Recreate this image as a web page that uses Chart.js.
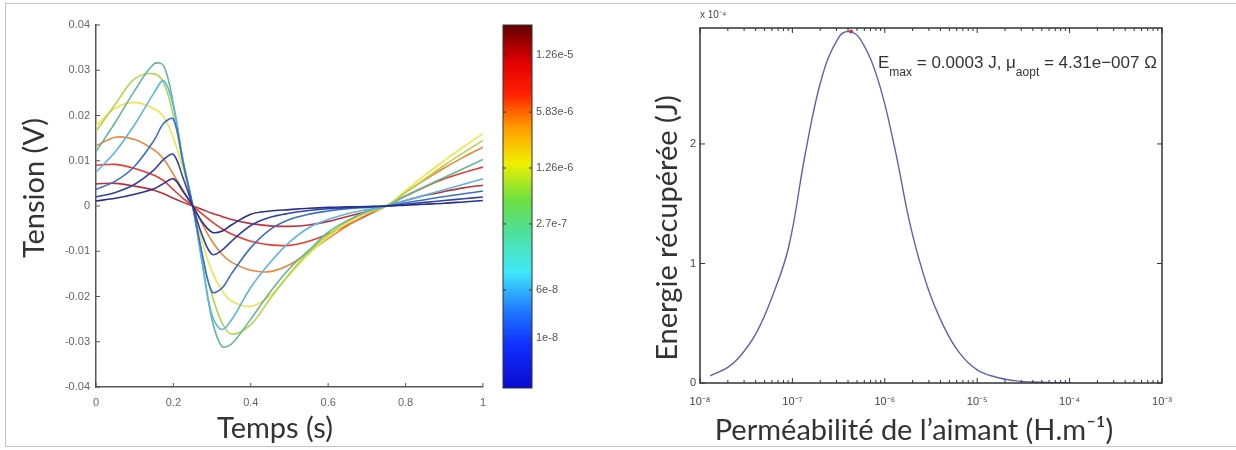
<!DOCTYPE html>
<html>
<head>
<meta charset="utf-8">
<script src="https://cdn.jsdelivr.net/npm/chart.js@4.4.1/dist/chart.umd.min.js"></script>
<style>
html, body { margin: 0; padding: 0; background: #fff; }
#frame { position: absolute; left: 5px; top: 3px; width: 1240px; height: 442px; border: 1px solid #c4c4c4; border-right: none; }
canvas { position: absolute; top: 0; }
</style>
</head>
<body>
<div id="frame"></div>
<canvas id="tension" width="495" height="446" style="left:0"></canvas>
<canvas id="cbar" width="145" height="446" style="left:495px"></canvas>
<canvas id="energie" width="596" height="446" style="left:640px"></canvas>
<script>
// ---- left plot: tension vs temps, one curve per permeability
const TEMPS = [0, 0.05, 0.1, 0.15, 0.175, 0.2, 0.225, 0.25, 0.275, 0.3, 0.325, 0.35, 0.4, 0.45, 0.5, 0.55, 0.6, 0.65, 0.7, 0.75, 0.8, 0.85, 0.9, 0.95, 1];
const U1  = [0.0011, 0.0017, 0.0026, 0.0038, 0.0050, 0.0060, 0.0032, 0, -0.0036, -0.0058, -0.0056, -0.0042, -0.0018, -0.0011, -0.0008, -0.0005, -0.0003, -0.0002, -0.0001, 0, 0.0002, 0.0004, 0.0006, 0.0009, 0.0012];
const U2  = [0.0020, 0.0030, 0.0048, 0.0080, 0.0103, 0.0114, 0.0062, 0, -0.0066, -0.0107, -0.0098, -0.0078, -0.0043, -0.0025, -0.0016, -0.0010, -0.0006, -0.0004, -0.0002, 0, 0.0004, 0.0008, 0.0012, 0.0016, 0.0020];
const U3  = [0.0037, 0.0055, 0.0088, 0.0145, 0.0183, 0.0192, 0.0095, 0, -0.0108, -0.0190, -0.0182, -0.0150, -0.0092, -0.0052, -0.0030, -0.0018, -0.0011, -0.0006, -0.0003, 0, 0.0007, 0.0014, 0.0021, 0.0027, 0.0033];
const U4  = [0.0075, 0.0120, 0.0180, 0.0250, 0.0277, 0.0220, 0.0100, 0, -0.0128, -0.0242, -0.0273, -0.0252, -0.0180, -0.0125, -0.0080, -0.0048, -0.0030, -0.0017, -0.0008, 0, 0.0012, 0.0024, 0.0036, 0.0048, 0.0060];
const U5  = [0.0120, 0.0185, 0.0255, 0.0314, 0.0310, 0.0225, 0.0100, 0, -0.0128, -0.0252, -0.0310, -0.0305, -0.0250, -0.0190, -0.0138, -0.0098, -0.0058, -0.0032, -0.0012, 0, 0.0022, 0.0043, 0.0063, 0.0083, 0.0103];
const U6  = [0.0165, 0.0225, 0.0281, 0.0292, 0.0272, 0.0200, 0.0098, 0, -0.0112, -0.0197, -0.0257, -0.0283, -0.0262, -0.0205, -0.0150, -0.0102, -0.0064, -0.0034, -0.0013, 0, 0.0030, 0.0060, 0.0090, 0.0118, 0.0145];
const U7  = [0.0177, 0.0216, 0.0229, 0.0215, 0.0197, 0.0150, 0.0082, 0, -0.0082, -0.0145, -0.0186, -0.0210, -0.0222, -0.0198, -0.0152, -0.0106, -0.0068, -0.0038, -0.0015, 0, 0.0034, 0.0068, 0.0100, 0.0131, 0.0160];
const U8  = [0.0133, 0.0152, 0.0147, 0.0124, 0.0104, 0.0070, 0.0035, 0, -0.0040, -0.0078, -0.0106, -0.0124, -0.0142, -0.0145, -0.0130, -0.0102, -0.0072, -0.0044, -0.0019, 0, 0.0030, 0.0058, 0.0084, 0.0108, 0.0130];
const U9  = [0.0090, 0.0092, 0.0083, 0.0068, 0.0056, 0.0036, 0.0017, 0, -0.0018, -0.0035, -0.0050, -0.0062, -0.0078, -0.0086, -0.0087, -0.0078, -0.0062, -0.0042, -0.0021, 0, 0.0022, 0.0042, 0.0060, 0.0074, 0.0086];
const U10 = [0.0049, 0.0050, 0.0044, 0.0035, 0.0027, 0.0017, 0.0008, 0, -0.0008, -0.0016, -0.0023, -0.0030, -0.0039, -0.0044, -0.0045, -0.0042, -0.0034, -0.0023, -0.0012, 0, 0.0012, 0.0023, 0.0032, 0.0040, 0.0046];
const TENSION_SERIES = [U1, U2, U3, U4, U5, U6, U7, U8, U9, U10];
const TEMPS_TICKS = [0, 0.2, 0.4, 0.6, 0.8, 1];
const TENSION_TICKS = [-0.04, -0.03, -0.02, -0.01, 0, 0.01, 0.02, 0.03, 0.04];

// ---- colorbar
const CBAR_LABELS = ['1e-8', '6e-8', '2.7e-7', '1.26e-6', '5.83e-6', '1.26e-5'];
const CBAR_POS = [0.138, 0.270, 0.452, 0.606, 0.760, 0.917];

// ---- right plot: energie vs permeabilite (energie in units of 1e-4 J)
const PERMEABILITE = [1.29e-8, 2e-8, 2.69e-8, 4.07e-8, 6.03e-8, 9.12e-8, 1.38e-7, 2.09e-7, 3.16e-7, 4.12e-7, 5.5e-7, 8.41e-7, 1.27e-6, 1.9e-6, 2.88e-6, 4.37e-6, 6.46e-6, 1e-5, 1.58e-5, 2.51e-5, 3.98e-5, 6.31e-5, 1e-4];
const ENERGIE_E4   = [0.06, 0.13, 0.22, 0.42, 0.72, 1.14, 1.92, 2.56, 2.89, 2.94, 2.87, 2.54, 1.98, 1.31, 0.81, 0.47, 0.25, 0.11, 0.05, 0.02, 0.008, 0.003, 0.001];
const ENERGIE_TICKS = [0, 1, 2];
const PIC = { x: 4.31e-7, y: 2.94 };
const ANNOT = [['E', false], ['max', true], [' = 0.0003 J, \u03bc', false], ['aopt', true], [' = 4.31e\u2212007 \u03a9', false]];

const LINE_COLORS = ['#2a2f8a', '#3142a8', '#3a6fc8', '#5cb4e6', '#62b896', '#b5d44a', '#f2e34a', '#e8873a', '#e83a30', '#c03038'];
const TICK_FONT = { family: '"Liberation Sans", Arial, sans-serif', size: 11 };
const TITLE_FONT = '29px Lato, "Open Sans", sans-serif';

const SUP = { '-': '\u207b', '0': '\u2070', '1': '\u00b9', '2': '\u00b2', '3': '\u00b3', '4': '\u2074', '5': '\u2075', '6': '\u2076', '7': '\u2077', '8': '\u2078', '9': '\u2079' };
const sup = s => String(s).split('').map(c => SUP[c] || c).join('');

// tick marks drawn inward, MATLAB style
const innerTicks = {
    id: 'innerTicks',
    afterDatasetsDraw(chart, args, opts) {
        const { ctx, chartArea: a } = chart;
        ctx.save();
        ctx.strokeStyle = opts.color;
        ctx.lineWidth = 1;
        ctx.beginPath();
        opts.axes.forEach(ax => {
            const scale = chart.scales[ax.id];
            scale.ticks.forEach(t => {
                const len = t.major === false ? ax.minor : ax.len;
                const p = scale.getPixelForValue(t.value);
                ax.sides.forEach(side => {
                    if (side === 'bottom') { ctx.moveTo(p, a.bottom); ctx.lineTo(p, a.bottom - len); }
                    if (side === 'top') { ctx.moveTo(p, a.top); ctx.lineTo(p, a.top + len); }
                    if (side === 'left') { ctx.moveTo(a.left, p); ctx.lineTo(a.left + len, p); }
                    if (side === 'right') { ctx.moveTo(a.right, p); ctx.lineTo(a.right - len, p); }
                });
            });
        });
        ctx.stroke();
        ctx.restore();
    }
};

const frameBox = {
    id: 'frameBox',
    afterDatasetsDraw(chart, args, opts) {
        const { ctx, chartArea: a } = chart;
        ctx.save();
        ctx.strokeStyle = opts.color;
        ctx.lineWidth = opts.width;
        ctx.strokeRect(a.left, a.top, a.right - a.left, a.bottom - a.top);
        ctx.restore();
    }
};

const axisText = {
    id: 'axisText',
    afterDraw(chart, args, opts) {
        const { ctx, chartArea: a } = chart;
        opts.items.forEach(it => {
            ctx.save();
            ctx.translate(a.left + it.dx, it.y);
            if (it.rotate) ctx.rotate(-Math.PI / 2);
            ctx.font = it.font;
            ctx.fillStyle = it.color;
            ctx.textAlign = it.align || 'center';
            ctx.textBaseline = 'middle';
            ctx.fillText(it.text, 0, 0);
            ctx.restore();
        });
    }
};

// "Emax = ..." label next to the peak
const peakLabel = {
    id: 'peakLabel',
    afterDraw(chart) {
        const { ctx, scales: { x } } = chart;
        let px = x.getPixelForValue(PIC.x) + 27;
        const py = 63;
        ctx.save();
        ctx.fillStyle = '#333';
        ctx.textBaseline = 'middle';
        ctx.textAlign = 'left';
        ANNOT.forEach(([txt, isSub]) => {
            ctx.font = (isSub ? '12px' : '17px') + ' "Liberation Sans", Arial, sans-serif';
            ctx.fillText(txt, px, isSub ? py + 10 : py);
            px += ctx.measureText(txt).width;
        });
        ctx.restore();
    }
};

Chart.defaults.font.family = TICK_FONT.family;

// left chart
new Chart(document.getElementById('tension'), {
    type: 'line',
    data: {
        datasets: TENSION_SERIES.map((v, k) => ({
            data: TEMPS.map((t, i) => ({ x: t, y: v[i] })),
            borderColor: LINE_COLORS[k],
            borderWidth: 1.6,
            pointRadius: 0,
            tension: 0.35,
            fill: false
        }))
    },
    options: {
        responsive: false,
        animation: false,
        devicePixelRatio: 1,
        layout: { padding: { left: 0, top: 25, right: 12, bottom: 0 } },
        plugins: {
            legend: { display: false },
            tooltip: { enabled: false },
            innerTicks: {
                color: '#555',
                axes: [{ id: 'x', sides: ['bottom'], len: 4, minor: 4 }, { id: 'y', sides: ['left'], len: 4, minor: 4 }]
            },
            axisText: {
                items: [
                    { text: 'Temps (s)', dx: 179, y: 429, font: TITLE_FONT, color: '#333' },
                    { text: 'Tension (V)', dx: -61, y: 188, rotate: true, font: TITLE_FONT, color: '#333' }
                ]
            }
        },
        scales: {
            x: {
                type: 'linear', min: 0, max: 1,
                afterBuildTicks: s => { s.ticks = TEMPS_TICKS.map(v => ({ value: v })); },
                afterFit: s => { s.height = 59; },
                grid: { display: false, drawTicks: false },
                border: { display: true, color: '#555', width: 1.5 },
                ticks: { padding: 9, font: TICK_FONT, color: '#666', maxRotation: 0, autoSkip: false,
                    callback: v => String(Number(v.toFixed(1))) }
            },
            y: {
                min: -0.04, max: 0.04,
                afterBuildTicks: s => { s.ticks = TENSION_TICKS.map(v => ({ value: v })); },
                afterFit: s => { s.width = 96; },
                grid: { display: false, drawTicks: false },
                border: { display: true, color: '#555', width: 1.5 },
                ticks: { padding: 6, font: TICK_FONT, color: '#666', autoSkip: false,
                    callback: v => Math.abs(v) < 1e-9 ? '0' : v.toFixed(2) }
            }
        }
    },
    plugins: [innerTicks, axisText]
});

// colorbar
let jetCache = null;
function jetGradient(chart) {
    const a = chart.chartArea;
    if (!a) return '#08f';
    if (jetCache) return jetCache;
    const g = chart.ctx.createLinearGradient(0, a.bottom, 0, a.top);
    g.addColorStop(0, '#0a0ad0');
    g.addColorStop(0.12, '#1030ff');
    g.addColorStop(0.22, '#2080ff');
    g.addColorStop(0.32, '#40e8f8');
    g.addColorStop(0.44, '#50e090');
    g.addColorStop(0.52, '#70e040');
    g.addColorStop(0.62, '#f0f000');
    g.addColorStop(0.72, '#ff9900');
    g.addColorStop(0.81, '#ff2000');
    g.addColorStop(0.9, '#e00000');
    g.addColorStop(1, '#600000');
    jetCache = g;
    return g;
}

new Chart(document.getElementById('cbar'), {
    type: 'bar',
    data: {
        labels: [''],
        datasets: [{ data: [1], backgroundColor: c => jetGradient(c.chart), borderWidth: 0, barPercentage: 1, categoryPercentage: 1 }]
    },
    options: {
        responsive: false,
        animation: false,
        devicePixelRatio: 1,
        layout: { padding: { left: 8, top: 25, right: 0, bottom: 58 } },
        plugins: {
            legend: { display: false },
            tooltip: { enabled: false },
            frameBox: { color: '#333', width: 1 },
            innerTicks: { color: '#333', axes: [{ id: 'y', sides: ['left', 'right'], len: 3, minor: 3 }] }
        },
        scales: {
            x: { display: false },
            y: {
                position: 'right', min: 0, max: 1,
                afterBuildTicks: s => { s.ticks = CBAR_POS.map(v => ({ value: v })); },
                afterFit: s => { s.width = 108; },
                grid: { display: false, drawTicks: false },
                border: { display: false },
                ticks: { padding: 4, font: TICK_FONT, color: '#555', autoSkip: false,
                    callback: (v, i) => CBAR_LABELS[i] }
            }
        }
    },
    plugins: [frameBox, innerTicks]
});

// right chart
new Chart(document.getElementById('energie'), {
    type: 'line',
    data: {
        datasets: [
            {
                data: PERMEABILITE.map((p, i) => ({ x: p, y: ENERGIE_E4[i] })),
                borderColor: '#5c62b0',
                borderWidth: 1.4,
                pointRadius: 0,
                tension: 0.4,
                fill: false
            },
            {
                data: [PIC],
                showLine: false,
                pointRadius: 2,
                pointBorderWidth: 0,
                pointBackgroundColor: '#ff2020'
            }
        ]
    },
    options: {
        responsive: false,
        animation: false,
        devicePixelRatio: 1,
        layout: { padding: { left: 0, top: 28, right: 74, bottom: 0 } },
        plugins: {
            legend: { display: false },
            tooltip: { enabled: false },
            frameBox: { color: '#333', width: 1.5 },
            innerTicks: {
                color: '#333',
                axes: [{ id: 'x', sides: ['bottom', 'top'], len: 5, minor: 3 }, { id: 'y', sides: ['left', 'right'], len: 5, minor: 5 }]
            },
            axisText: {
                items: [
                    { text: 'Perm\u00e9abilit\u00e9 de l\u2019aimant (H.m\u207b\u00b9)', dx: 214, y: 431, font: TITLE_FONT, color: '#333' },
                    { text: 'Energie r\u00e9cup\u00e9r\u00e9e (J)', dx: -32, y: 228, rotate: true, font: TITLE_FONT, color: '#333' },
                    { text: 'x 10' + sup(-4), dx: 0, y: 15, font: '10px "Liberation Sans", Arial, sans-serif', color: '#444', align: 'left' }
                ]
            }
        },
        scales: {
            x: {
                type: 'logarithmic', min: 1e-8, max: 1e-3,
                afterBuildTicks: s => {
                    const t = [];
                    for (let e = -8; e <= -3; e++) {
                        for (let m = 1; m <= 9; m++) {
                            if (e === -3 && m > 1) break;
                            t.push({ value: m * Math.pow(10, e), major: m === 1 });
                        }
                    }
                    s.ticks = t;
                },
                afterFit: s => { s.height = 63; },
                grid: { display: false, drawTicks: false },
                border: { display: false },
                ticks: { padding: 12, font: { size: 11 }, color: '#444', maxRotation: 0, autoSkip: false,
                    callback: (v, i, ticks) => ticks[i].major ? '10' + sup(Math.round(Math.log10(v))) : '' }
            },
            y: {
                min: 0, max: 2.97,
                afterBuildTicks: s => { s.ticks = ENERGIE_TICKS.map(v => ({ value: v })); },
                afterFit: s => { s.width = 60; },
                grid: { display: false, drawTicks: false },
                border: { display: false },
                ticks: { padding: 4, font: { size: 11 }, color: '#444', autoSkip: false }
            }
        }
    },
    plugins: [frameBox, innerTicks, axisText, peakLabel]
});
</script>
</body>
</html>
